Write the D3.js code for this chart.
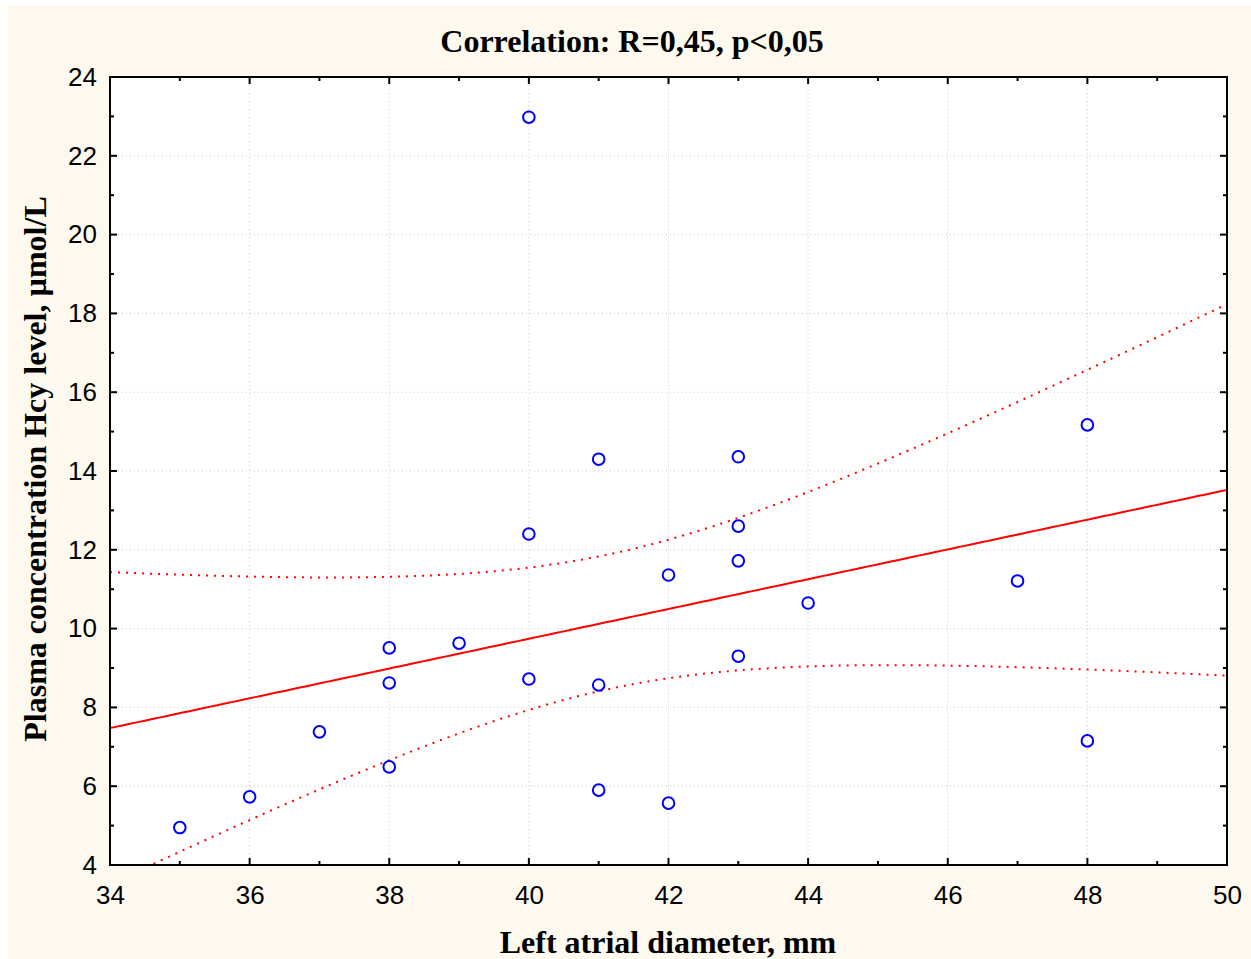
<!DOCTYPE html>
<html><head><meta charset="utf-8">
<script src="https://cdn.jsdelivr.net/npm/d3@7"></script>
<style>html,body{margin:0;padding:0;background:#fff;}svg{display:block;}</style>
</head><body>
<svg id="chart" width="1251" height="959"></svg>
<script>
const titleText = "Correlation: R=0,45, p<0,05";
const xTitle = "Left atrial diameter, mm";
const yTitle = "Plasma concentration Hcy level, µmol/L";
const xDomain = [34, 50];
const yDomain = [4, 24];
const xTicks = [34, 36, 38, 40, 42, 44, 46, 48, 50];
const yTicks = [4, 6, 8, 10, 12, 14, 16, 18, 20, 22, 24];
const diameter = [35, 36, 37, 38, 38, 38, 39, 40, 40, 40, 41, 41, 41, 42, 42, 43, 43, 43, 43, 44, 47, 48, 48];
const hcy = [4.95, 5.73, 7.38, 9.51, 8.62, 6.49, 9.63, 22.98, 12.40, 8.72, 14.30, 8.57, 5.90, 11.36, 5.57, 14.36, 12.60, 11.72, 9.30, 10.65, 11.21, 15.17, 7.15];

const svg = d3.select("#chart");
const W = 1251, H = 959;
const plot = {l: 110, r: 1227, t: 77, b: 865};

svg.append("rect").attr("x", 8).attr("y", 5).attr("width", W - 8).attr("height", H - 5).attr("fill", "#fef9ef");
svg.append("rect").attr("x", plot.l).attr("y", plot.t).attr("width", plot.r - plot.l).attr("height", plot.b - plot.t).attr("fill", "#ffffff");

const x = d3.scaleLinear().domain(xDomain).range([plot.l, plot.r]);
const y = d3.scaleLinear().domain(yDomain).range([plot.b, plot.t]);

// grid
const grid = svg.append("g").attr("stroke", "#c8c8c8").attr("stroke-width", 1).attr("stroke-dasharray", "1,3");
xTicks.slice(1, -1).forEach(v => grid.append("line").attr("x1", x(v)).attr("x2", x(v)).attr("y1", plot.t).attr("y2", plot.b));
yTicks.slice(1, -1).forEach(v => grid.append("line").attr("y1", y(v)).attr("y2", y(v)).attr("x1", plot.l).attr("x2", plot.r));

// regression + confidence band
const n = diameter.length;
const mx = d3.mean(diameter), my = d3.mean(hcy);
let sxx = 0, sxy = 0, syy = 0;
for (let i = 0; i < n; i++) { const dx = diameter[i] - mx, dy = hcy[i] - my; sxx += dx*dx; sxy += dx*dy; syy += dy*dy; }
const b = sxy / sxx, a = my - b * mx;
const s = Math.sqrt((syy - b * sxy) / (n - 2));
const tval = 2.0796; // t(0.975, 21)
const xs = d3.range(0, 201).map(i => xDomain[0] + (xDomain[1] - xDomain[0]) * i / 200);
const hw = xv => tval * s * Math.sqrt(1 / n + (xv - mx) ** 2 / sxx);

svg.append("clipPath").attr("id", "clip").append("rect")
  .attr("x", plot.l).attr("y", plot.t).attr("width", plot.r - plot.l).attr("height", plot.b - plot.t);
const fitG = svg.append("g").attr("clip-path", "url(#clip)");
const line = d3.line().x(d => x(d[0])).y(d => y(d[1]));
fitG.append("path").attr("d", line(xs.map(v => [v, a + b * v]))).attr("fill", "none").attr("stroke", "#ff0000").attr("stroke-width", 2);
[1, -1].forEach(sg => {
  fitG.append("path").attr("d", line(xs.map(v => [v, a + b * v + sg * hw(v)])))
    .attr("fill", "none").attr("stroke", "#ff0000").attr("stroke-width", 2).attr("stroke-dasharray", "2,6");
});

// points
svg.append("g").selectAll("circle").data(diameter).join("circle")
  .attr("cx", (d) => x(d)).attr("cy", (d, i) => y(hcy[i])).attr("r", 5.8)
  .attr("fill", "none").attr("stroke", "#0000ff").attr("stroke-width", 2);

// axes with inward ticks on all sides
const xMinor = d3.range(34, 51, 1);
const yMinor = d3.range(4, 25, 1);
const ax = svg.append("g").attr("stroke", "#000").attr("stroke-width", 2);
xMinor.forEach(v => {
  const len = v % 2 === 0 ? 7 : 4;
  ax.append("line").attr("x1", x(v)).attr("x2", x(v)).attr("y1", plot.b).attr("y2", plot.b - len);
  ax.append("line").attr("x1", x(v)).attr("x2", x(v)).attr("y1", plot.t).attr("y2", plot.t + len);
});
yMinor.forEach(v => {
  const len = v % 2 === 0 ? 7 : 4;
  ax.append("line").attr("y1", y(v)).attr("y2", y(v)).attr("x1", plot.l).attr("x2", plot.l + len);
  ax.append("line").attr("y1", y(v)).attr("y2", y(v)).attr("x1", plot.r).attr("x2", plot.r - len);
});
svg.append("rect").attr("x", plot.l).attr("y", plot.t).attr("width", plot.r - plot.l).attr("height", plot.b - plot.t)
  .attr("fill", "none").attr("stroke", "#000").attr("stroke-width", 2);

// tick labels
const xAxis = d3.axisBottom(x).tickValues(xTicks).tickSize(0).tickPadding(0);
const gx = svg.append("g").attr("transform", `translate(0,${plot.b + 39})`).call(xAxis);
gx.select(".domain").remove();
gx.selectAll("text").attr("font-family", "Liberation Sans, Arial, sans-serif").attr("font-size", 26).attr("fill", "#000").attr("dy", 0);
const yAxis = d3.axisLeft(y).tickValues(yTicks).tickSize(0).tickPadding(13);
const gy = svg.append("g").attr("transform", `translate(${plot.l},0)`).call(yAxis);
gy.select(".domain").remove();
gy.selectAll("text").attr("font-family", "Liberation Sans, Arial, sans-serif").attr("font-size", 26).attr("fill", "#000");

// titles
svg.append("text").attr("x", 632).attr("y", 52).attr("text-anchor", "middle")
  .attr("font-family", "Liberation Serif, Times New Roman, serif").attr("font-weight", "bold").attr("font-size", 32).text(titleText);
svg.append("text").attr("x", 668).attr("y", 953).attr("text-anchor", "middle")
  .attr("font-family", "Liberation Serif, Times New Roman, serif").attr("font-weight", "bold").attr("font-size", 32).text(xTitle);
svg.append("text").attr("transform", `translate(46,469) rotate(-90)`).attr("text-anchor", "middle")
  .attr("font-family", "Liberation Serif, Times New Roman, serif").attr("font-weight", "bold").attr("font-size", 32).text(yTitle);
</script>
</body></html>
